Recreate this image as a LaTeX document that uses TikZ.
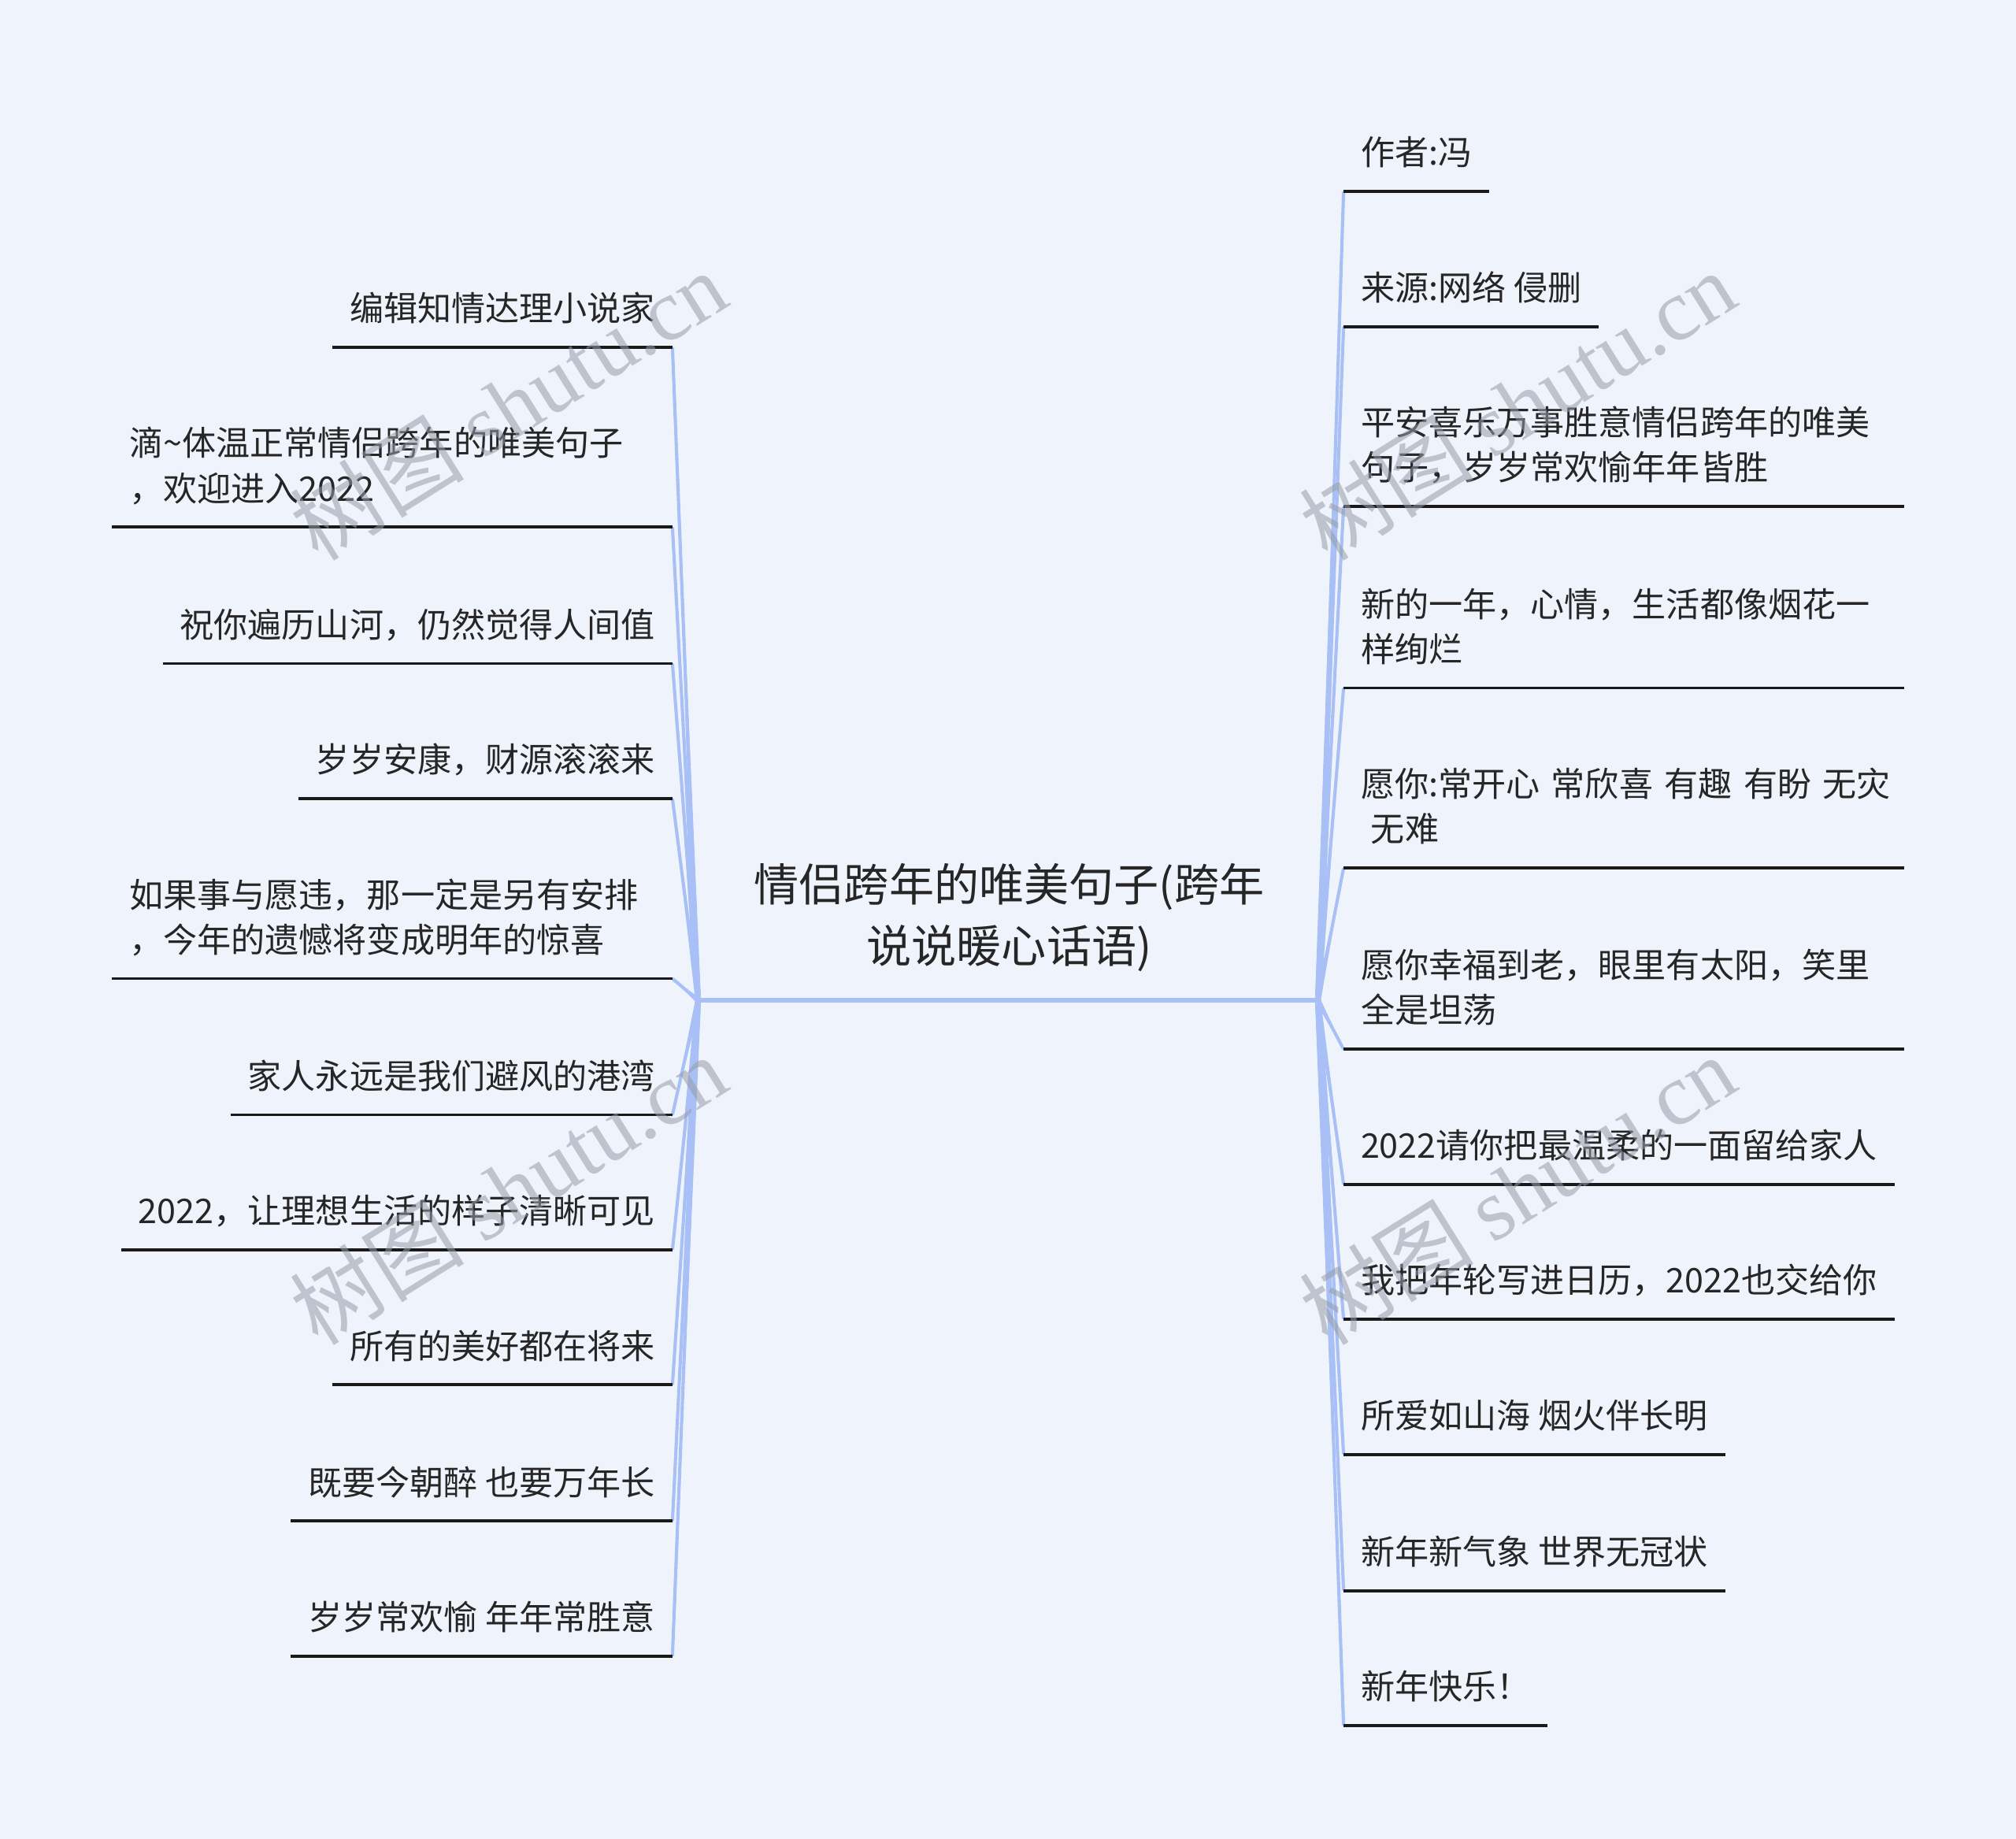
\documentclass[tikz,border=0pt]{standalone}
\usepackage{fontspec}
\setmainfont{Noto Sans CJK SC}
\newfontfamily\wmserif{Liberation Serif}
\usetikzlibrary{calc}
\definecolor{bgc}{RGB}{239,243,252}
\definecolor{connc}{RGB}{168,192,245}
\definecolor{txtc}{RGB}{38,38,38}
\definecolor{ulc}{RGB}{26,26,26}
\definecolor{wmc}{RGB}{150,156,168}
\newcommand\lstrut{\rule[-3pt]{0pt}{14pt}}
\newcommand\cstrut{\rule[-4pt]{0pt}{17.3pt}}
\newcommand\branch[2]{%
  \fill[connc] (#2) -- ($(#1)!1.1pt!90:(#2)$) -- ($(#1)!1.1pt!-90:(#2)$) -- cycle;
  \draw[connc, line width=1.25pt] (#1) -- (#2);}
\newcommand\uline[1]{\draw[ulc, line width=1.2pt] (#1.south west) -- (#1.south east);}
\tikzset{
  leaf/.style={font=\fontsize{13.2pt}{17.5pt}\selectfont, text=txtc, inner xsep=6.5pt, inner ysep=7pt},
  lnode/.style={leaf, anchor=south east},
  rnode/.style={leaf, anchor=south west},
  wide/.style={text width=204.5pt, align=left},
  wmark/.style={font=\fontsize{34pt}{34pt}\selectfont, text=wmc, text opacity=0.55, rotate=32},
}
\begin{document}
\begin{tikzpicture}[x=0.5pt,y=-0.5pt]
\fill[bgc] (0,0) rectangle (1568,1430);
\useasboundingbox (0,0) rectangle (1568,1430);

\coordinate (hubL) at (543,778);
\coordinate (hubR) at (1025,778);

\node[font=\fontsize{17.5pt}{24pt}\selectfont, text=txtc, align=center, inner sep=0pt] (root) at (785,714)
  {\cstrut 情侣跨年的唯美句子(跨年\\\cstrut 说说暖心话语)};

% left
\node[lnode] (l1) at (523,270) {\lstrut 编辑知情达理小说家};
\node[lnode,wide] (l2) at (523,410) {\lstrut 滴\textasciitilde 体温正常情侣跨年的唯美句子\\\lstrut ，欢迎进入2022};
\node[lnode] (l3) at (523,516) {\lstrut 祝你遍历山河，仍然觉得人间值};
\node[lnode] (l4) at (523,621) {\lstrut 岁岁安康，财源滚滚来};
\node[lnode,wide] (l5) at (523,761) {\lstrut 如果事与愿违，那一定是另有安排\\\lstrut ，今年的遗憾将变成明年的惊喜};
\node[lnode] (l6) at (523,867) {\lstrut 家人永远是我们避风的港湾};
\node[lnode] (l7) at (523,972) {\lstrut 2022，让理想生活的样子清晰可见};
\node[lnode] (l8) at (523,1077) {\lstrut 所有的美好都在将来};
\node[lnode] (l9) at (523,1183) {\lstrut 既要今朝醉 也要万年长};
\node[lnode] (l10) at (523,1288) {\lstrut 岁岁常欢愉 年年常胜意};

% right
\node[rnode] (r1) at (1045,149) {\lstrut 作者:冯};
\node[rnode] (r2) at (1045,254) {\lstrut 来源:网络 侵删};
\node[rnode,wide] (r3) at (1045,394) {\lstrut 平安喜乐万事胜意情侣跨年的唯美\\\lstrut 句子，岁岁常欢愉年年皆胜};
\node[rnode,wide] (r4) at (1045,535) {\lstrut 新的一年，心情，生活都像烟花一\\\lstrut 样绚烂};
\node[rnode,wide] (r5) at (1045,675) {\lstrut\mbox{愿你:常开心 常欣喜 有趣 有盼 无灾}\\\lstrut\hspace*{0.3em}无难};
\node[rnode,wide] (r6) at (1045,816) {\lstrut 愿你幸福到老，眼里有太阳，笑里\\\lstrut 全是坦荡};
\node[rnode] (r7) at (1045,921) {\lstrut 2022请你把最温柔的一面留给家人};
\node[rnode] (r8) at (1045,1026) {\lstrut 我把年轮写进日历，2022也交给你};
\node[rnode] (r9) at (1045,1131) {\lstrut 所爱如山海 烟火伴长明};
\node[rnode] (r10) at (1045,1237) {\lstrut 新年新气象 世界无冠状};
\node[rnode] (r11) at (1045,1342) {\lstrut 新年快乐！};

% connectors
\foreach \n in {l1,l2,l3,l4,l5,l6,l7,l8,l9,l10} {\branch{hubL}{\n.south east}}
\foreach \n in {r1,r2,r3,r4,r5,r6,r7,r8,r9,r10,r11} {\branch{hubR}{\n.south west}}
\draw[connc, line width=1.9pt] (hubL) -- (hubR);

% underlines
\foreach \n in {l1,l2,l3,l4,l5,l6,l7,l8,l9,l10,r1,r2,r3,r4,r5,r6,r7,r8,r9,r10,r11} {\uline{\n}}

% watermarks
\node[wmark] (wm1) at (395,315) {树图 {\wmserif shutu.cn}};
\node[wmark] (wm2) at (395,925) {树图 {\wmserif shutu.cn}};
\node[wmark] (wm3) at (1180,315) {树图 {\wmserif shutu.cn}};
\node[wmark] (wm4) at (1180,925) {树图 {\wmserif shutu.cn}};
\end{tikzpicture}
\end{document}
